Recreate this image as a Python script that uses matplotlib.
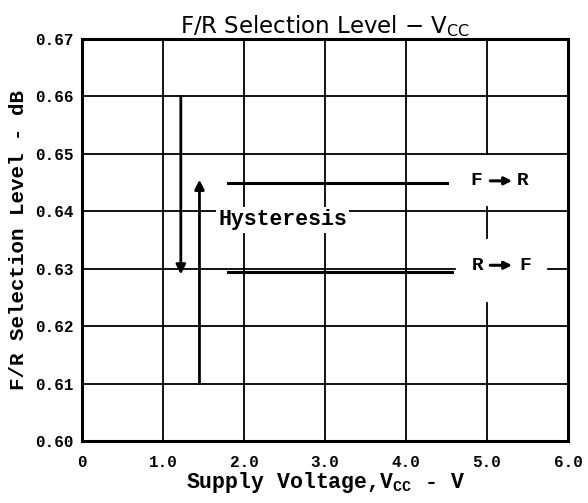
import matplotlib
matplotlib.use("Agg")
import matplotlib.pyplot as plt

# ---- data ----
x_ticks = [0, 1, 2, 3, 4, 5, 6]
x_tick_labels = ["0", "1.0", "2.0", "3.0", "4.0", "5.0", "6.0"]
y_ticks = [0.60, 0.61, 0.62, 0.63, 0.64, 0.65, 0.66, 0.67]
y_tick_labels = ["0.60", "0.61", "0.62", "0.63", "0.64", "0.65", "0.66", "0.67"]

fr_level = 0.645          # F -> R threshold
fr_x = [1.8, 4.5]
rf_level = 0.6295         # R -> F threshold
rf_x = [1.8, 4.57]

hyst_down_x = 1.22
hyst_down_y = [0.660, 0.629]
hyst_up_x = 1.45
hyst_up_y = [0.610, 0.6455]

plt.rcParams["mathtext.fontset"] = "custom"
plt.rcParams["mathtext.tt"] = "Liberation Mono:bold"
plt.rcParams["mathtext.sf"] = "DejaVu Sans"

mono = ["Liberation Mono", "DejaVu Sans Mono"]

fig = plt.figure(figsize=(5.88, 5.03), dpi=100)
ax = fig.add_axes([82/588, 1-441/503, 486/588, 402/503])
ax.set_xlim(0, 6)
ax.set_ylim(0.60, 0.67)

# grid (drawn manually, with gaps as in the scan)
gl = dict(color="black", lw=1.3, zorder=1)
for xv in [1, 2, 3, 4]:
    ax.plot([xv, xv], [0.60, 0.67], **gl)
ax.plot([5, 5], [0.65, 0.67], **gl)
ax.plot([5, 5], [0.6353, 0.6407], **gl)
ax.plot([5, 5], [0.60, 0.624], **gl)
for yv in [0.61, 0.62, 0.64, 0.65, 0.66]:
    ax.plot([0, 6], [yv, yv], **gl)
ax.plot([0, 4.6], [0.63, 0.63], **gl)
ax.plot([5.75, 6], [0.63, 0.63], **gl)

# threshold lines
ax.plot(fr_x, [fr_level, fr_level], color="black", lw=2.2, zorder=3)
ax.plot(rf_x, [rf_level, rf_level], color="black", lw=2.2, zorder=3)

# hysteresis arrows
arrow_kw = dict(arrowstyle="-|>", color="black", lw=2, mutation_scale=14,
                shrinkA=0, shrinkB=0)
ax.annotate("", xy=(hyst_down_x, hyst_down_y[1]), xytext=(hyst_down_x, hyst_down_y[0]),
            arrowprops=arrow_kw, zorder=4)
ax.annotate("", xy=(hyst_up_x, hyst_up_y[1]), xytext=(hyst_up_x, hyst_up_y[0]),
            arrowprops=arrow_kw, zorder=4)

lab_kw = dict(family=mono, fontweight="bold", fontsize=14, va="center", zorder=5)
ax.text(1.68, 0.6385, "Hysteresis", ha="left",
        bbox=dict(facecolor="white", edgecolor="none", pad=1.5),
        **{**lab_kw, "fontsize": 15.5})

small_arrow = dict(arrowstyle="-|>", color="black", lw=2.2, mutation_scale=11,
                   shrinkA=0, shrinkB=0)
# F -> R label
ax.text(4.79, fr_level + 0.0003, "F", ha="left", **lab_kw)
ax.annotate("", xy=(5.31, fr_level + 0.0003), xytext=(5.04, fr_level + 0.0003),
            arrowprops=small_arrow, zorder=5)
ax.text(5.37, fr_level + 0.0003, "R", ha="left", **lab_kw)
# R -> F label
ax.text(4.81, 0.6306, "R", ha="left", **lab_kw)
ax.annotate("", xy=(5.31, 0.6306), xytext=(5.04, 0.6306),
            arrowprops=small_arrow, zorder=5)
ax.text(5.40, 0.6306, "F", ha="left", **lab_kw)

ax.set_xticks(x_ticks)
ax.set_xticklabels(x_tick_labels, family=mono, fontweight="bold", fontsize=11.5)
ax.set_yticks(y_ticks)
ax.set_yticklabels(y_tick_labels, family=mono, fontweight="bold", fontsize=11.5)
ax.tick_params(axis="x", length=0, pad=10)
ax.tick_params(axis="y", length=0, pad=6)

for s in ax.spines.values():
    s.set_linewidth(2.2)
    s.set_color("black")

ax.set_xlabel(r"Supply Voltage,$\mathtt{V_{CC}}$ - V", family=mono, fontweight="bold",
              fontsize=15.5, labelpad=0)
ax.set_ylabel("F/R Selection Level - dB", family=mono, fontweight="bold", fontsize=15,
              labelpad=5)
ax.set_title(r"F/R Selection Level $-$ $\mathsf{V_{CC}}$", family="DejaVu Sans",
             fontsize=16.5, pad=4)

fig.savefig("out.png", dpi=100, facecolor="white")
